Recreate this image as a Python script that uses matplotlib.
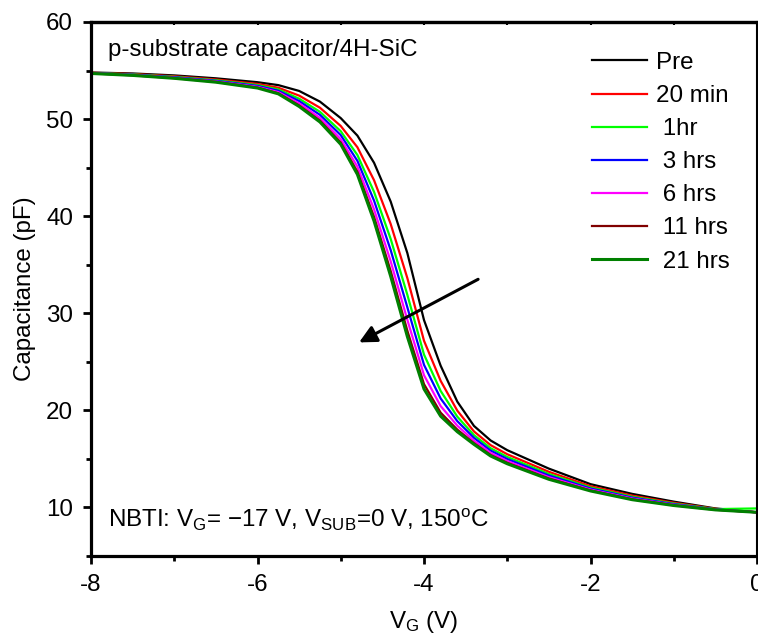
import matplotlib
matplotlib.use("Agg")
import matplotlib.pyplot as plt
from matplotlib.ticker import MultipleLocator

plt.rcParams['font.family'] = ['Liberation Sans', 'DejaVu Sans']
plt.rcParams['mathtext.fontset'] = 'custom'
plt.rcParams['mathtext.rm'] = 'Liberation Sans'
plt.rcParams['mathtext.it'] = 'Liberation Sans:italic'
plt.rcParams['axes.unicode_minus'] = False

# ---- data ----
vg = [-8, -7.5, -7, -6.5, -6, -5.75, -5.5, -5.25, -5, -4.8, -4.6, -4.4, -4.2,
      -4.0, -3.8, -3.6, -3.4, -3.2, -3.0, -2.5, -2.0, -1.5, -1.0, -0.5, 0]

c_pre = [54.8, 54.7, 54.5, 54.2, 53.8, 53.5, 52.9, 51.8, 50.1, 48.3, 45.5, 41.5, 36.2,
         29.3, 24.6, 20.9, 18.4, 16.9, 15.9, 14.0, 12.4, 11.4, 10.6, 9.9, 9.5]
c_20min = [54.77, 54.64, 54.41, 54.08, 53.62, 53.23, 52.42, 51.17, 49.29, 47.1, 43.7, 39.19, 33.62,
           27.17, 23.04, 19.97, 17.83, 16.42, 15.48, 13.67, 12.19, 11.22, 10.48, 9.86, 9.5]
c_1hr = [54.75, 54.6, 54.35, 54.0, 53.5, 53.05, 52.1, 50.75, 48.75, 46.3, 42.5, 37.65, 31.9,
         25.75, 22.0, 19.35, 17.45, 16.1, 15.2, 13.45, 12.05, 11.1, 10.4, 9.83, 9.9]
c_3hrs = [54.74, 54.57, 54.31, 53.94, 53.41, 52.92, 51.86, 50.44, 48.35, 45.7, 41.6, 36.5, 30.61,
          24.69, 21.22, 18.89, 17.17, 15.86, 14.99, 13.29, 11.95, 11.01, 10.34, 9.80, 9.5]
c_6hrs = [54.72, 54.54, 54.26, 53.88, 53.32, 52.78, 51.62, 50.12, 47.94, 45.1, 40.7, 35.34, 29.32,
          23.62, 20.44, 18.42, 16.88, 15.62, 14.78, 13.12, 11.84, 10.92, 10.28, 9.78, 9.5]
c_11hrs = [54.71, 54.51, 54.22, 53.83, 53.24, 52.66, 51.41, 49.85, 47.59, 44.58, 39.92, 34.34, 28.2,
           22.7, 19.76, 18.02, 16.63, 15.41, 14.6, 12.98, 11.75, 10.84, 10.23, 9.76, 9.5]
c_21hrs = [54.7, 54.5, 54.2, 53.8, 53.2, 52.6, 51.3, 49.7, 47.4, 44.3, 39.5, 33.8, 27.6,
           22.2, 19.4, 17.8, 16.5, 15.3, 14.5, 12.9, 11.7, 10.8, 10.2, 9.75, 9.5]

labels = ['Pre', '20 min', ' 1hr', ' 3 hrs', ' 6 hrs', ' 11 hrs', ' 21 hrs']
series = [c_pre, c_20min, c_1hr, c_3hrs, c_6hrs, c_11hrs, c_21hrs]
colors = ['#000000', '#ff0000', '#00ff00', '#0000ff', '#ff00ff', '#800000', '#008000']
widths = [1.6, 1.6, 1.6, 1.6, 1.6, 1.6, 2.2]

xticks = [-8, -6, -4, -2, 0]
xticklabels = ['-8', '-6', '-4', '-2', '0']
yticks = [10, 20, 30, 40, 50, 60]

# ---- figure ----
fig = plt.figure(figsize=(7.58, 6.42), dpi=100)
ax = fig.add_axes([91/758, 1 - 556/642, (757 - 91)/758, (556 - 22)/642])

for c, lab, col, lw in zip(series, labels, colors, widths):
    ax.plot(vg, c, color=col, lw=lw, label=lab, solid_joinstyle='round')

ax.set_xlim(-8, 0)
ax.set_ylim(5, 60)
ax.set_xticks(xticks)
ax.set_xticklabels(xticklabels)
ax.set_yticks(yticks)
ax.xaxis.set_minor_locator(MultipleLocator(1))
ax.yaxis.set_minor_locator(MultipleLocator(5))

ax.tick_params(axis='both', which='major', direction='out', length=6, width=2,
               labelsize=17.4, pad=7)
ax.tick_params(axis='both', which='minor', direction='out', length=3.5, width=2)

# small inward ticks on the top edge
sec = ax.secondary_xaxis('top')
sec.set_xticks(xticks)
sec.xaxis.set_minor_locator(MultipleLocator(1))
sec.tick_params(axis='x', which='both', direction='in', length=2.5, width=1.5,
                labeltop=False)
sec.spines['top'].set_linewidth(2.3)

for s in ['left', 'bottom', 'top']:
    ax.spines[s].set_linewidth(2.3)
ax.spines['right'].set_linewidth(1.5)

ax.set_xlabel(r'V$_\mathrm{G}$ (V)', fontsize=17.4, labelpad=9)
ax.set_ylabel('Capacitance (pF)', fontsize=17.4, labelpad=7)

ax.text(0.025, 0.968, 'p-substrate capacitor/4H-SiC', transform=ax.transAxes,
        fontsize=17.4, ha='left', va='top')
ax.text(0.025, 0.068,
        r'NBTI: V$_\mathrm{G}$= $\mathrm{-}$17 V, V$_\mathrm{SUB}$=0 V, 150$^\mathrm{o}$C',
        transform=ax.transAxes, fontsize=17.4, ha='left', va='center')

ax.annotate('', xy=(-4.78, 27.0), xytext=(-3.35, 33.5),
            arrowprops=dict(arrowstyle='-|>', color='black', lw=2.2,
                            mutation_scale=26, shrinkA=0, shrinkB=0))

leg = ax.legend(loc='upper left', bbox_to_anchor=(0.752, 0.944), frameon=False,
                fontsize=17.4, handlelength=2.3, handletextpad=0.35,
                labelspacing=0.46, borderpad=0, borderaxespad=0)

fig.savefig('out.png', dpi=100)
